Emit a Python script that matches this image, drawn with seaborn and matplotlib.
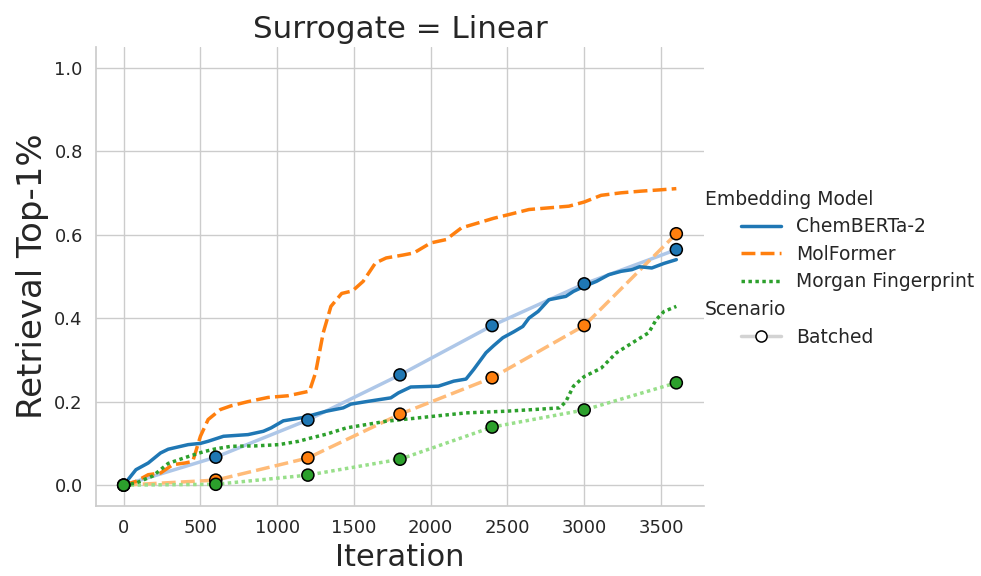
import matplotlib
matplotlib.use("Agg")
import matplotlib.pyplot as plt
from matplotlib.lines import Line2D
from matplotlib.legend_handler import HandlerLine2D
import numpy as np
import pandas as pd
import seaborn as sns

# ---- data -------------------------------------------------------------
models = ["ChemBERTa-2", "MolFormer", "Morgan Fingerprint"]

chem_iter = [0, 80, 160, 240, 290, 420, 500, 550, 650, 810, 910, 960, 1040, 1170,
             1320, 1430, 1480, 1580, 1740, 1790, 1870, 2050, 2150, 2230, 2280, 2360,
             2410, 2470, 2540, 2600, 2640, 2700, 2770, 2880, 2930, 3000, 3080, 3160,
             3240, 3310, 3360, 3440, 3520, 3600]
chem_val = [0.000, 0.037, 0.053, 0.077, 0.086, 0.097, 0.100, 0.105, 0.117, 0.121,
            0.129, 0.137, 0.154, 0.162, 0.177, 0.185, 0.194, 0.200, 0.209, 0.221,
            0.235, 0.237, 0.249, 0.254, 0.277, 0.317, 0.334, 0.353, 0.367, 0.380,
            0.400, 0.416, 0.444, 0.452, 0.464, 0.476, 0.488, 0.504, 0.512, 0.516,
            0.523, 0.520, 0.531, 0.540]

molf_iter = [0, 80, 160, 240, 320, 400, 450, 500, 550, 630, 700, 810, 940, 1070,
             1210, 1250, 1300, 1350, 1420, 1490, 1560, 1640, 1710, 1820, 1890, 2000,
             2100, 2200, 2310, 2410, 2510, 2640, 2770, 2900, 3000, 3110, 3240, 3370,
             3490, 3600]
molf_val = [0.000, 0.009, 0.025, 0.029, 0.049, 0.053, 0.057, 0.117, 0.157, 0.181,
            0.190, 0.200, 0.210, 0.214, 0.225, 0.269, 0.365, 0.428, 0.459, 0.465,
            0.488, 0.532, 0.544, 0.551, 0.556, 0.580, 0.588, 0.616, 0.628, 0.639,
            0.648, 0.660, 0.664, 0.668, 0.678, 0.694, 0.700, 0.704, 0.707, 0.710]

morg_iter = [0, 80, 190, 290, 400, 520, 600, 700, 860, 1010, 1140, 1220, 1320, 1450,
             1580, 1710, 1840, 2020, 2230, 2490, 2670, 2840, 2880, 2930, 3000, 3110,
             3210, 3310, 3420, 3470, 3520, 3600]
morg_val = [0.000, 0.005, 0.022, 0.052, 0.066, 0.080, 0.087, 0.093, 0.094, 0.097,
            0.105, 0.113, 0.122, 0.137, 0.145, 0.153, 0.158, 0.165, 0.173, 0.177,
            0.181, 0.185, 0.200, 0.237, 0.260, 0.280, 0.317, 0.340, 0.365, 0.397,
            0.416, 0.428]

# batched runs, evaluated every 600 iterations
batch_iter = [0, 600, 1200, 1800, 2400, 3000, 3600]
batch_chem = [0.000, 0.067, 0.156, 0.264, 0.382, 0.482, 0.564]
batch_molf = [0.000, 0.012, 0.065, 0.170, 0.257, 0.382, 0.602]
batch_morg = [0.000, 0.002, 0.024, 0.062, 0.139, 0.180, 0.245]

# ---- long-form tables -------------------------------------------------
seq = pd.concat([
    pd.DataFrame({"Iteration": chem_iter, "Retrieval": chem_val, "Model": models[0]}),
    pd.DataFrame({"Iteration": molf_iter, "Retrieval": molf_val, "Model": models[1]}),
    pd.DataFrame({"Iteration": morg_iter, "Retrieval": morg_val, "Model": models[2]}),
], ignore_index=True)

bat = pd.concat([
    pd.DataFrame({"Iteration": batch_iter, "Retrieval": v, "Model": m})
    for m, v in zip(models, [batch_chem, batch_molf, batch_morg])
], ignore_index=True)

# ---- style ------------------------------------------------------------
sns.set_theme(style="whitegrid")
dark = dict(zip(models, sns.color_palette("tab10", 3)))
tab20 = sns.color_palette("tab20", 6)
light = dict(zip(models, [tab20[1], tab20[3], tab20[5]]))
dash_map = {models[0]: "", models[1]: (4, 1.5), models[2]: (1, 1)}

fig, ax = plt.subplots(figsize=(9.81, 5.76), dpi=100)
fig.subplots_adjust(left=0.0979, right=0.7176, bottom=0.1215, top=0.919)

sns.lineplot(data=bat, x="Iteration", y="Retrieval", hue="Model", style="Model",
             hue_order=models, style_order=models, palette=light, dashes=dash_map,
             linewidth=2.5, legend=False, ax=ax, zorder=2)
sns.lineplot(data=seq, x="Iteration", y="Retrieval", hue="Model", style="Model",
             hue_order=models, style_order=models, palette=dark, dashes=dash_map,
             linewidth=2.5, legend=False, ax=ax, zorder=3)
sns.scatterplot(data=bat, x="Iteration", y="Retrieval", hue="Model",
                hue_order=models, palette=dark, s=75, edgecolor="black",
                linewidth=1.1, legend=False, ax=ax, zorder=4)

ax.set_ylim(-0.05, 1.05)
ax.set_yticks([0.0, 0.2, 0.4, 0.6, 0.8, 1.0])
ax.set_xticks(range(0, 3501, 500))
ax.tick_params(labelsize=13)
ax.set_xlabel("Iteration", fontsize=22)
ax.set_ylabel("Retrieval Top-1%", fontsize=24.5)
ax.set_title("Surrogate = Linear", fontsize=22.3)
sns.despine(ax=ax)


# ---- legend -----------------------------------------------------------
class IndentedLineHandler(HandlerLine2D):
    """Draw the legend line only in the right part of the handle box."""

    def __init__(self, frac=0.53, **kw):
        super().__init__(**kw)
        self.frac = frac

    def create_artists(self, legend, orig_handle, xdescent, ydescent,
                       width, height, fontsize, trans):
        w = width * self.frac
        return super().create_artists(legend, orig_handle, xdescent - (width - w),
                                      ydescent, w, height, fontsize, trans)


handles = [
    Line2D([], [], visible=False),
    Line2D([], [], color=dark[models[0]], lw=2.5),
    Line2D([], [], color=dark[models[1]], lw=2.5, dashes=(4, 1.5)),
    Line2D([], [], color=dark[models[2]], lw=2.5, dashes=(1, 1)),
    Line2D([], [], visible=False),
    Line2D([], [], color="lightgray", lw=2.5, marker="o", markersize=8,
           markerfacecolor="white", markeredgecolor="black", markeredgewidth=1.1),
]
labels = ["Embedding Model"] + models + ["Scenario", "Batched"]
leg = fig.legend(handles, labels, loc="center left", bbox_to_anchor=(0.7015, 0.5345),
                 frameon=False, fontsize=13.5, handlelength=4.05, labelspacing=0.46,
                 handler_map={Line2D: IndentedLineHandler()})

# subtitles: no handle box, flush left
for hpack in leg._legend_handle_box.get_children()[0].get_children():
    draw_area, text_area = hpack.get_children()
    if not all(a.get_visible() for a in draw_area.get_children()):
        draw_area.set_width(0)
        hpack.sep = 0

fig.savefig("out.png", dpi=100)
